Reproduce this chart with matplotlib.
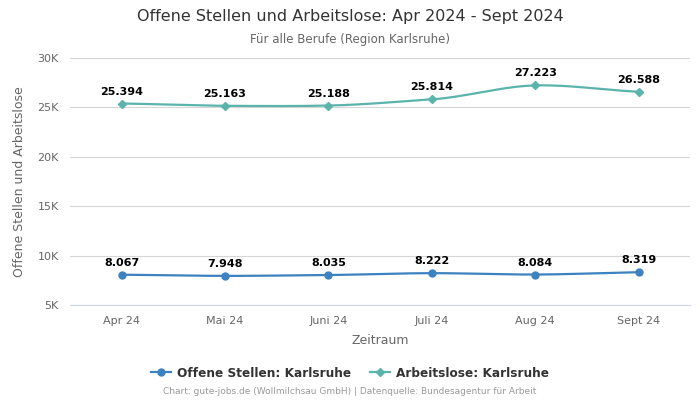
import numpy as np
import matplotlib
matplotlib.use('Agg')
from matplotlib import pyplot as plt

months = ['Apr 24', 'Mai 24', 'Juni 24', 'Juli 24', 'Aug 24', 'Sept 24']
offene = [8067, 7948, 8035, 8222, 8084, 8319]
arbeitslose = [25394, 25163, 25188, 25814, 27223, 26588]
yticks = [5000, 10000, 15000, 20000, 25000, 30000]
ytick_labels = ['5K', '10K', '15K', '20K', '25K', '30K']

blue = '#3d82c0'
teal = '#5ab4ac'

def fmt(v):
    return '{:,}'.format(v).replace(',', '.')

def smooth(x, y, n=30):
    # simple cardinal spline through the points
    x = np.asarray(x, float); y = np.asarray(y, float)
    xs, ys = [], []
    for i in range(len(x) - 1):
        m0 = (y[i+1] - y[i-1]) / 2 if i > 0 else (y[i+1] - y[i])
        m1 = (y[i+2] - y[i]) / 2 if i < len(x) - 2 else (y[i+1] - y[i])
        t = np.linspace(0, 1, n)
        h00 = 2*t**3 - 3*t**2 + 1; h10 = t**3 - 2*t**2 + t
        h01 = -2*t**3 + 3*t**2; h11 = t**3 - t**2
        xs.append(x[i] + t * (x[i+1] - x[i]))
        ys.append(h00*y[i] + h10*m0*0.7 + h01*y[i+1] + h11*m1*0.7)
    return np.concatenate(xs), np.concatenate(ys)

fig = plt.figure(figsize=(7, 4), dpi=100)
ax = fig.add_axes([0.1, 0.2375, 0.886, 0.6175])
x = np.arange(len(months))

for vals, col, mk, ms, lab in [(offene, blue, 'o', 5, 'Offene Stellen: Karlsruhe'),
                               (arbeitslose, teal, 'D', 4, 'Arbeitslose: Karlsruhe')]:
    sx, sy = smooth(x, vals)
    ax.plot(sx, sy, color=col, lw=1.6, zorder=3)
    ax.plot(x, vals, linestyle='none', marker=mk, ms=ms, color=col, zorder=4)
    ax.plot([], [], color=col, marker=mk, ms=ms, lw=1.6, label=lab)
    for xi, v in zip(x, vals):
        ax.annotate(fmt(v), (xi, v), xytext=(0, 5), textcoords='offset points',
                    ha='center', va='bottom', fontsize=8, fontweight='bold', color='black')

ax.set_xlim(-0.5, 5.5)
ax.set_ylim(5000, 30000)
ax.set_yticks(yticks)
ax.set_yticklabels(ytick_labels)
ax.set_xticks(x)
ax.set_xticklabels(months)
ax.grid(axis='y', color='#d6d6d6', lw=0.8)
ax.set_axisbelow(True)
for s in ['top', 'right', 'left']:
    ax.spines[s].set_visible(False)
ax.spines['bottom'].set_color('#ccd6eb')
ax.tick_params(axis='both', length=0, labelsize=8, colors='#666666', pad=8)
ax.set_xlabel('Zeitraum', fontsize=9, color='#666666', labelpad=6)
ax.set_ylabel('Offene Stellen und Arbeitslose', fontsize=9, color='#666666', labelpad=8)

fig.text(0.5, 0.958, 'Offene Stellen und Arbeitslose: Apr 2024 - Sept 2024', ha='center', va='center',
         fontsize=11.5, color='#333333')
fig.text(0.5, 0.902, 'Für alle Berufe (Region Karlsruhe)', ha='center', va='center',
         fontsize=8.5, color='#666666')
leg = fig.legend(loc='center', bbox_to_anchor=(0.5, 0.067), ncol=2, frameon=False,
                 prop={'size': 8.7, 'weight': 'bold'}, handlelength=1.6, handletextpad=0.5,
                 columnspacing=1.6)
for t in leg.get_texts():
    t.set_color('#333333')
fig.text(0.5, 0.02, 'Chart: gute-jobs.de (Wollmilchsau GmbH) | Datenquelle: Bundesagentur für Arbeit',
         ha='center', va='center', fontsize=6.5, color='#999999')

fig.savefig('out.png', dpi=100)
